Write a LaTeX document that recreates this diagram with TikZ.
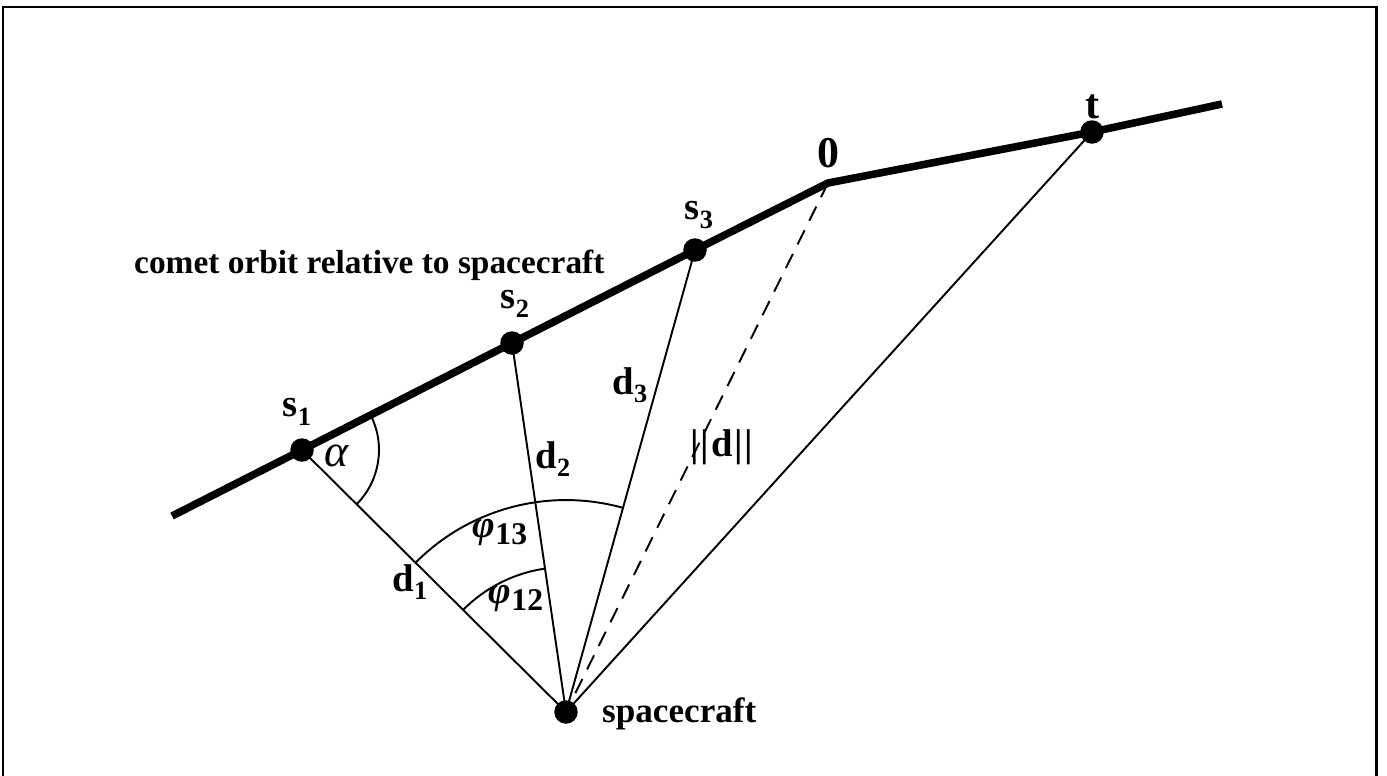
\documentclass[tikz,border=0pt]{standalone}
\usepackage{fontspec}
\setmainfont{Liberation Serif}
\usetikzlibrary{angles}

\tikzset{
  orbit/.style={line width=4.3pt},
  ray/.style={line width=1.1pt},
  body/.style={circle, fill, inner sep=0pt, minimum size=0.47cm},
  lab/.style={font=\fontsize{22}{22}\selectfont\bfseries},
  angarc/.style={draw, line width=1.1pt},
}
\newcommand{\sub}[2]{#1\raisebox{-0.22em}{\fontsize{15}{15}\selectfont #2}}
\newcommand{\phisub}[1]{{\itshape φ}\raisebox{-0.2em}{\fontsize{18}{18}\selectfont #1}}

\begin{document}
\begin{tikzpicture}[x=0.02cm, y=-0.02cm]
\useasboundingbox (0,0) rectangle (1387,775);
\clip (0,0) rectangle (1387,775);

% frame
\draw[line width=1.7pt] (3,7) rectangle (1376,800);

% points on the orbit
\coordinate (start) at (172,516);
\coordinate (end) at (1222,104);
\coordinate (O) at (828,183);
\node[body] (s1) at (302,450) {};
\node[body] (s2) at (512,343) {};
\node[body] (s3) at (695,250) {};
\node[body] (t) at (1092,132) {};
\node[body] (sc) at (566,712) {};

% orbit
\draw[orbit] (start) -- (s1.center) -- (s2.center) -- (s3.center) -- (O) -- (t.center) -- (end);

% rays
\draw[ray] (s1.center) -- (sc.center);
\draw[ray] (s2.center) -- (sc.center);
\draw[ray] (s3.center) -- (sc.center);
\draw[ray] (t.center) -- (sc.center);
\draw[ray, dashed, dash pattern=on 9pt off 6pt] (O) -- (sc.center);

% angles
\pic[angarc, angle radius=1.54cm] {angle=sc--s1--s2};
\pic[angarc, angle radius=2.9cm] {angle=s2--sc--s1};
\pic[angarc, angle radius=4.24cm] {angle=s3--sc--s1};

% labels
\node[lab] at (297,412) {\sub{s}{1}};
\node[lab] at (515,304) {\sub{s}{2}};
\node[lab] at (699,215) {\sub{s}{3}};
\node[lab, font=\fontsize{25}{25}\selectfont\bfseries] at (828,153) {0};
\node[lab, font=\fontsize{24}{24}\selectfont\bfseries] at (1093,107) {t};
\node[lab] at (410,582) {\sub{d}{1}};
\node[lab] at (553,459) {\sub{d}{2}};
\node[lab] at (630,385) {\sub{d}{3}};
\node[lab] at (722,447) {\textbar\kern1pt\textbar\kern1pt d\kern1pt\textbar\kern1pt\textbar};
\node[font=\fontsize{26}{26}\selectfont\itshape] at (336,456) {α};
\node[lab] at (500,532) {\phisub{13}};
\node[lab] at (516,598) {\phisub{12}};
\node[font=\fontsize{19}{19}\selectfont\bfseries, anchor=base west] at (128,273) {comet orbit relative to spacecraft};
\node[font=\fontsize{20}{20}\selectfont\bfseries, anchor=west] at (596,714) {spacecraft};

\end{tikzpicture}
\end{document}
